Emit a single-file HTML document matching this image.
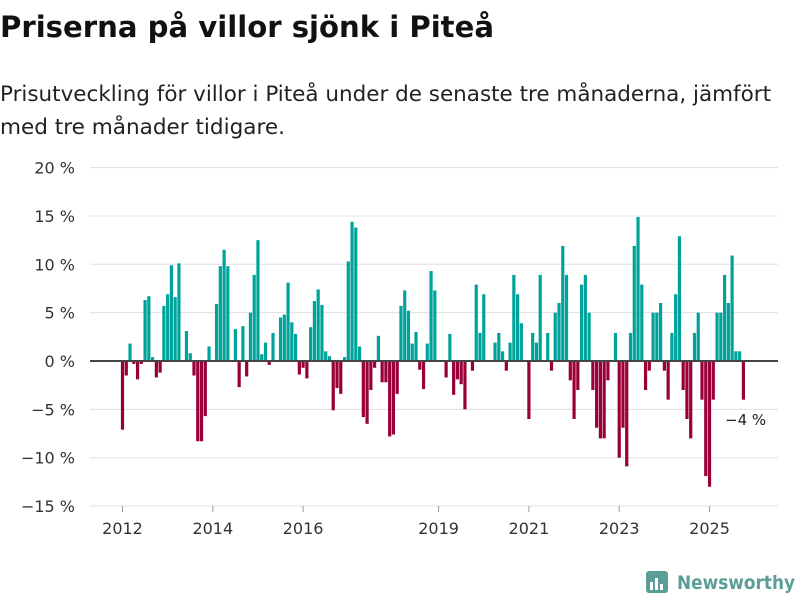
<!DOCTYPE html>
<html><head><meta charset="utf-8"><style>
body{margin:0;background:#fff;width:800px;height:600px;overflow:hidden;font-family:"Liberation Sans","DejaVu Sans",sans-serif;}
</style></head><body>
<svg width="800" height="600" xmlns="http://www.w3.org/2000/svg">
<text x="0" y="37" font-size="29" font-weight="bold" fill="#111" font-family="DejaVu Sans, sans-serif" textLength="494" lengthAdjust="spacingAndGlyphs">Priserna på villor sjönk i Piteå</text>
<text x="0" y="101" font-size="21" fill="#222" font-family="DejaVu Sans, sans-serif" textLength="771" lengthAdjust="spacingAndGlyphs">Prisutveckling för villor i Piteå under de senaste tre månaderna, jämfört</text>
<text x="0" y="134" font-size="21" fill="#222" font-family="DejaVu Sans, sans-serif" textLength="285" lengthAdjust="spacingAndGlyphs">med tre månader tidigare.</text>
<g id="grid"></g><g id="bars"></g><g id="xaxis"></g>
<text x="725" y="425" font-size="15" fill="#222" font-family="DejaVu Sans, sans-serif">−4 %</text>
<g>
<rect x="646" y="571" width="22" height="22" rx="3" fill="#5a9e97"/>
<rect x="650" y="582" width="3" height="8" fill="#fff"/><rect x="655" y="578" width="3" height="12" fill="#fff"/><rect x="660" y="584" width="3" height="6" fill="#fff"/>
<text x="677" y="589" font-size="19" font-weight="bold" fill="#5a9e97" font-family="DejaVu Sans, sans-serif" textLength="118" lengthAdjust="spacingAndGlyphs">Newsworthy</text>
</g>
</svg>
<script>
const yTicks=[20,15,10,5,0,-5,-10,-15];
const yearLabels=["2012","2014","2016","2019","2021","2023","2025"];
const yearMonthIdx=[0,24,48,84,108,132,156];
const values=[-7.1,-1.5,1.8,-0.3,-1.9,-0.3,6.3,6.7,0.4,-1.7,-1.2,5.7,6.9,9.9,6.6,10.1,0,3.1,0.8,-1.5,-8.3,-8.3,-5.7,1.5,0,5.9,9.8,11.5,9.8,0,3.3,-2.7,3.6,-1.6,5.0,8.9,12.5,0.7,1.9,-0.4,2.9,0,4.5,4.8,8.1,4.0,2.8,-1.4,-0.7,-1.8,3.5,6.2,7.4,5.8,1.0,0.5,-5.1,-2.8,-3.4,0.4,10.3,14.4,13.8,1.5,-5.8,-6.5,-3.0,-0.7,2.6,-2.2,-2.2,-7.8,-7.6,-3.4,5.7,7.3,5.2,1.8,3.0,-0.9,-2.9,1.8,9.3,7.3,0,0,-1.7,2.8,-3.5,-1.9,-2.4,-5.0,0,-1.0,7.9,2.9,6.9,0,0,1.9,2.9,1.0,-1.0,1.9,8.9,6.9,3.9,0,-6.0,2.9,1.9,8.9,0,2.9,-1.0,5.0,6.0,11.9,8.9,-2.0,-6.0,-3.0,7.9,8.9,5.0,-3.0,-6.9,-8.0,-8.0,-2.0,0,2.9,-10.0,-6.9,-10.9,2.9,11.9,14.9,7.9,-3.0,-1.0,5.0,5.0,6.0,-1.0,-4.0,2.9,6.9,12.9,-3.0,-6.0,-8.0,2.9,5.0,-4.0,-11.9,-13.0,-4.0,5.0,5.0,8.9,6.0,10.9,1.0,1.0,-4.0];
const NS="http://www.w3.org/2000/svg";
const y=v=>361-v*9.67, x=i=>122.5+i*3.763;
function mk(t,a,p){const e=document.createElementNS(NS,t);for(const k in a)e.setAttribute(k,a[k]);p.appendChild(e);return e;}
const grid=document.getElementById('grid'),bars=document.getElementById('bars'),xa=document.getElementById('xaxis');
yTicks.forEach(t=>{
 const l=mk('line',{x1:90,x2:778,y1:y(t),y2:y(t),stroke:'#e0e0e0','stroke-width':1},grid);
 
 
 const tx=mk('text',{x:75,y:y(t)+6,'text-anchor':'end','font-size':16,fill:'#333','font-family':'DejaVu Sans, sans-serif'},grid);
 tx.textContent=t.toString().replace('-','−')+' %';
 
 
});
values.forEach((v,i)=>{
 if(v===0)return;
 const r=mk('rect',{x:x(i)-1.6,width:3.2,y:Math.min(y(v),361),height:Math.abs(y(v)-361),fill:v>0?'#00a39a':'#99003a'},bars);
 
 
});
const base=mk('line',{x1:90,x2:778,y1:361,y2:361,stroke:'#444','stroke-width':2},bars);


yearLabels.forEach((lab,k)=>{
 const tk=mk('line',{x1:x(yearMonthIdx[k]),x2:x(yearMonthIdx[k]),y1:506,y2:512,stroke:'#999'},xa);
 
 
 const t=mk('text',{x:x(yearMonthIdx[k]),y:534,'text-anchor':'middle','font-size':16,fill:'#333','font-family':'DejaVu Sans, sans-serif'},xa);
 t.textContent=lab;
 
 
});
</script>
</body></html>
